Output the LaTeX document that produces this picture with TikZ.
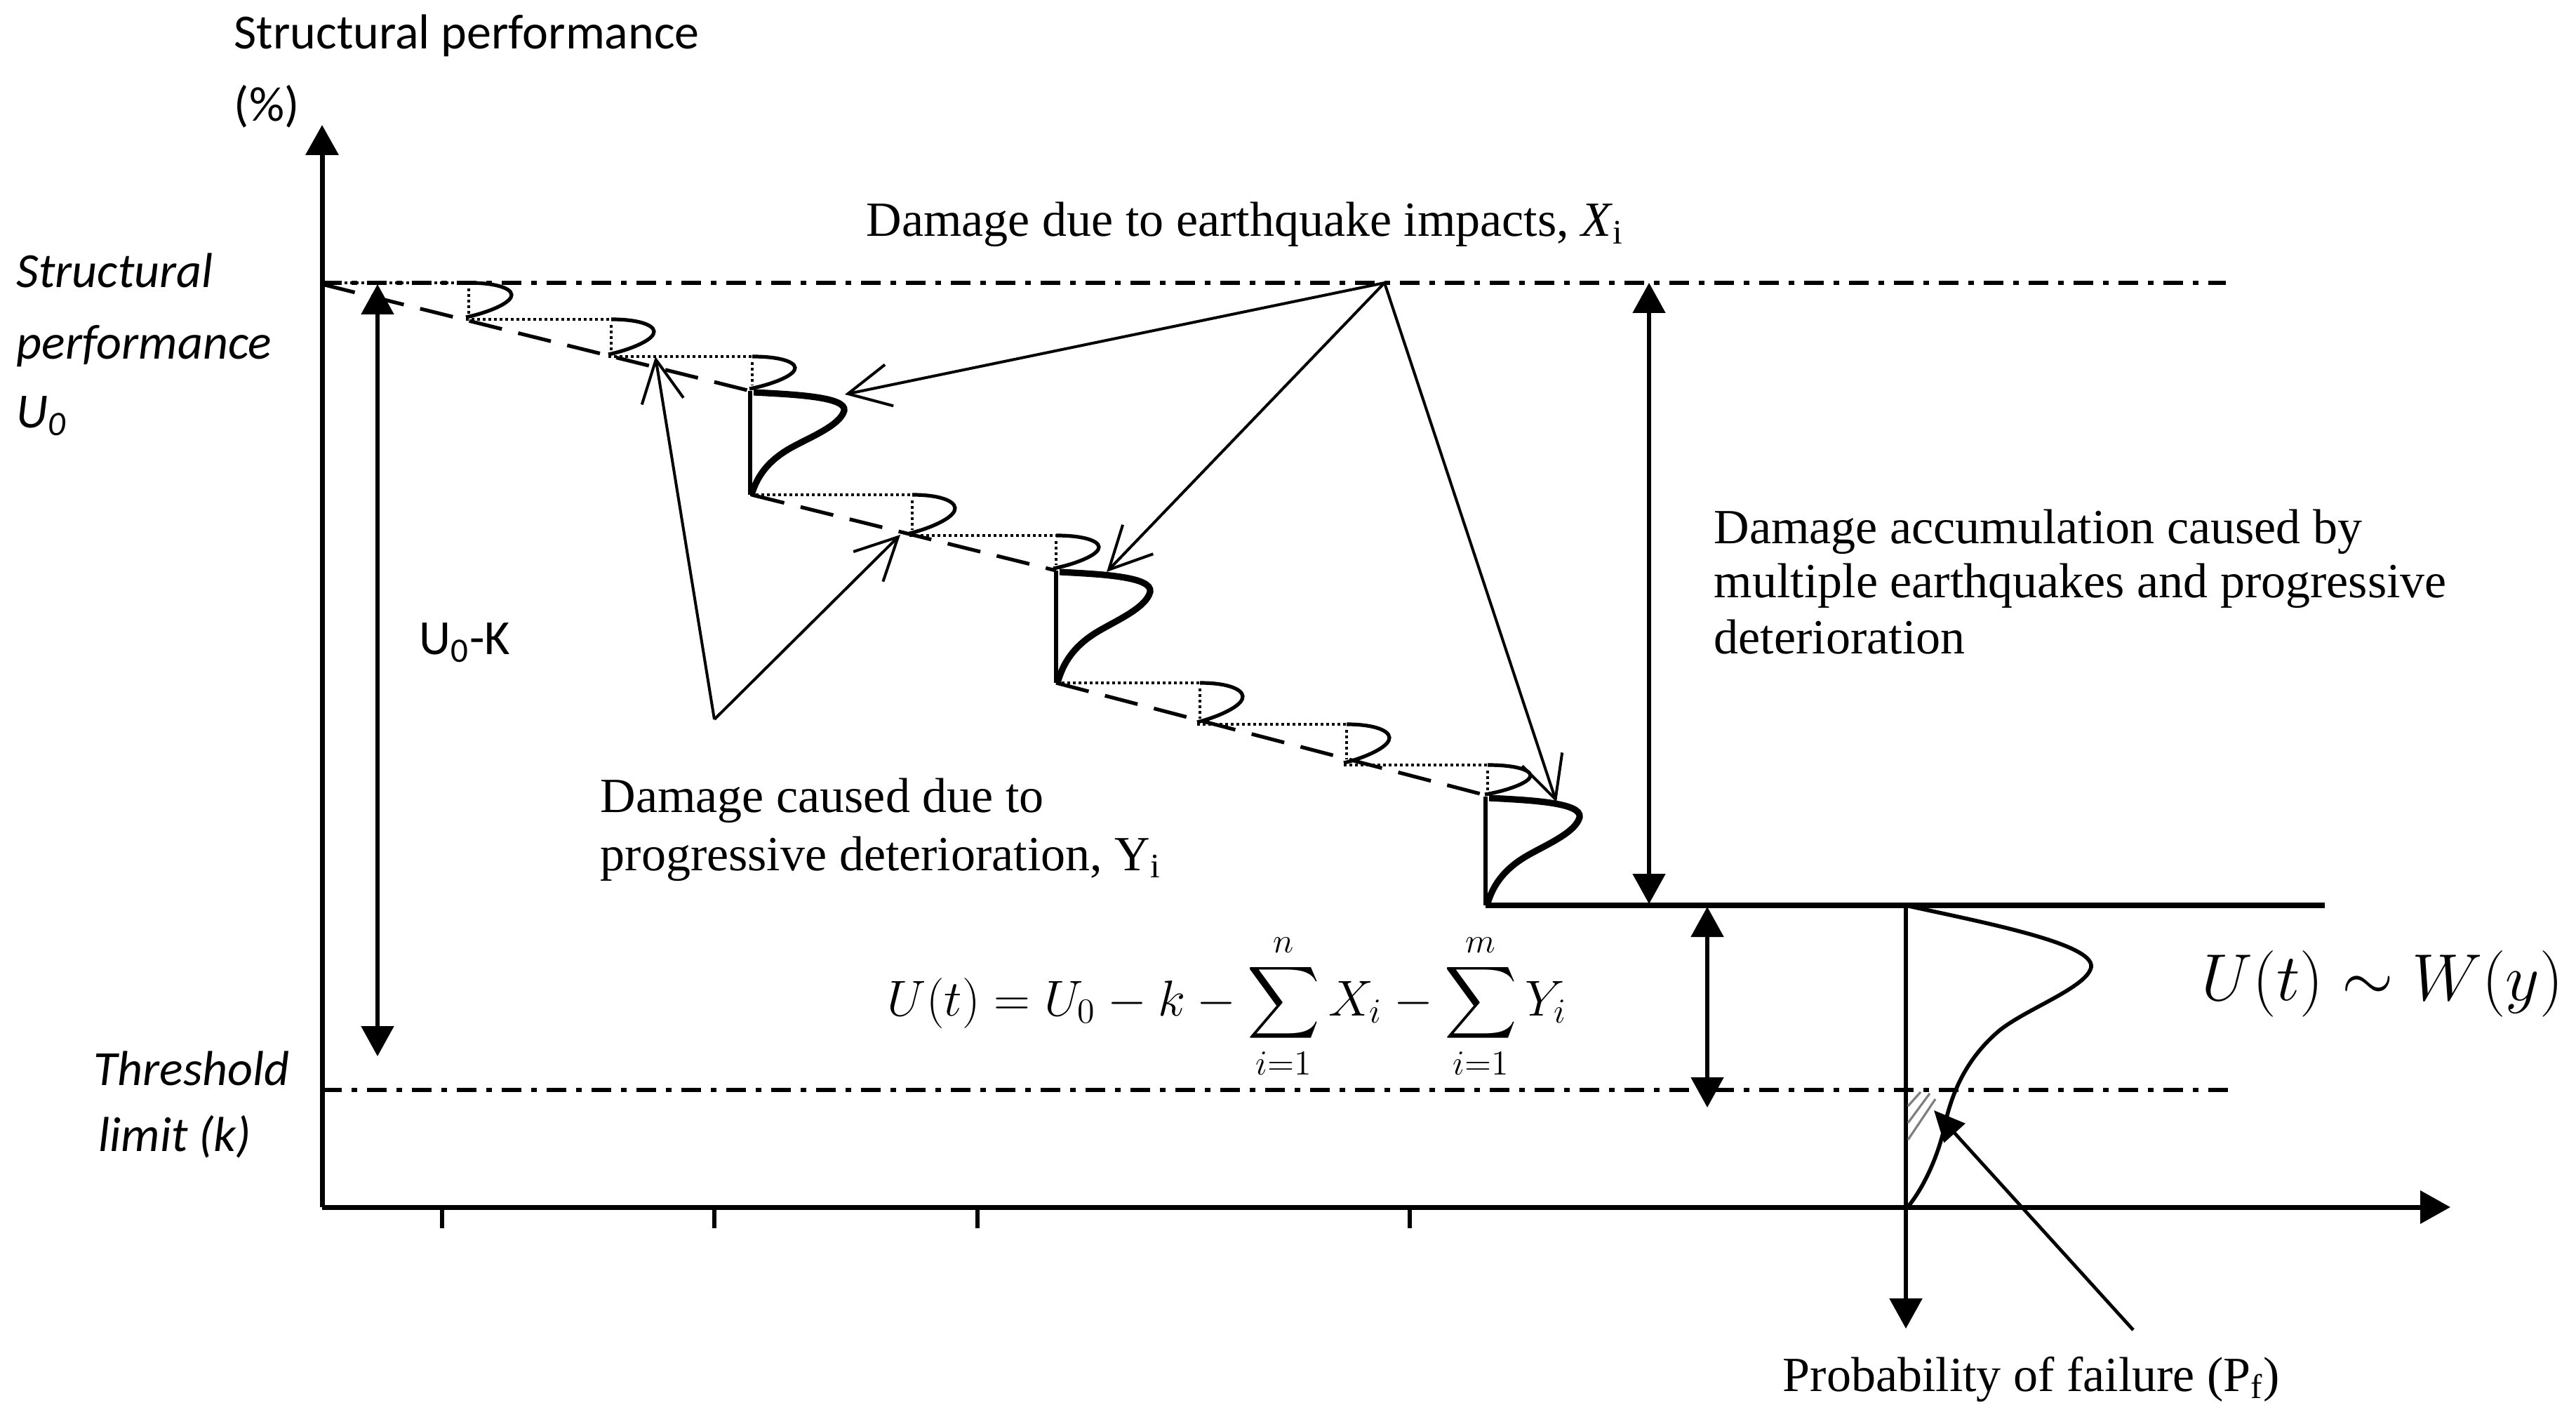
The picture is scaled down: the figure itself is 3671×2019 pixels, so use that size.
\documentclass[tikz,border=0pt]{standalone}
\usepackage{exscale}
\usepackage{graphicx}
\usepackage{fontspec}
\setmainfont{Liberation Serif}
\newfontfamily\calib{Carlito}
\usetikzlibrary{arrows.meta}
\newcommand\drawsmallD[3]{%
  \draw[smallDst] (#1,#2) .. controls ({#1+45},#2) and ({#1+66},{#2+0.2*(#3-#2)}) .. ({#1+60},{#2+0.4*(#3-#2)})
    .. controls ({#1+54},{#2+0.62*(#3-#2)}) and ({#1+20},{#2+0.85*(#3-#2)}) .. ({#1-4},{#3-3});
  \draw[dotl] (#1,{#2+8}) -- (#1,{#3-8});
}
\newcommand\drawbigD[3]{%
  \draw[vline] (#1,#2) -- (#1,#3);
  \draw[bigDst] ({#1+5},{#2+2}) .. controls ({#1+60},{#2+5}) and ({#1+138},{#2+8}) .. ({#1+134},{#2+0.19*(#3-#2)})
    .. controls ({#1+128},{#2+0.34*(#3-#2)}) and ({#1+80},{#2+0.46*(#3-#2)}) .. ({#1+55},{#2+0.56*(#3-#2)})
    .. controls ({#1+25},{#2+0.68*(#3-#2)}) and ({#1+10},{#2+0.82*(#3-#2)}) .. ({#1+2},#3);
}
\tikzset{
  axisline/.style={line width=1.75pt, -{Triangle[width=11.5pt,length=10.75pt]}},
  tickline/.style={line width=1.6pt},
  dashdot/.style={line width=1.6pt, dash pattern=on 7pt off 3.5pt on 2pt off 3.5pt},
  dotl/.style={line width=1.2pt, dash pattern=on 1.1pt off 0.9pt},
  dashl/.style={line width=1.3pt, dash pattern=on 12pt off 6pt},
  thinarr/.style={line width=1pt, -{Straight Barb[length=15pt,width=15pt]}},
  dblarr/.style={line width=1.3pt, {Triangle[width=11.5pt,length=10.75pt]}-{Triangle[width=11.5pt,length=10.75pt]}},
  smallDst/.style={line width=1.3pt},
  bigDst/.style={line width=2.3pt},
  vline/.style={line width=1.3pt},
  serif/.style={font=\fontsize{17.5pt}{20pt}\selectfont, inner sep=0pt, anchor=base west},
  cal/.style={font=\calib\fontsize{17.5pt}{21pt}\selectfont, inner sep=0pt, anchor=base west},
  calit/.style={font=\calib\itshape\fontsize{17.5pt}{21pt}\selectfont, inner sep=0pt, anchor=base west},
}
\begin{document}
\begin{tikzpicture}[x=0.25pt,y=-0.25pt]
\useasboundingbox (0,0) rectangle (3671,2019);

% axes
\coordinate (O) at (459,1720);
\coordinate (Ytop) at (459,178);
\coordinate (Xend) at (3492,1720);
\draw[axisline] (O) -- (Ytop);
\draw[axisline] (O) -- (Xend);
\foreach \tx in {630,1018,1393,2009} \draw[tickline] (\tx,1720) -- (\tx,1750);

% reference lines
\draw[dashdot] (459,403) -- (3172,403);
\draw[dashdot] (459,1553) -- (3175,1553);

% segment 1
\draw[dashl] (459,405) -- (1069,557);
\draw[dotl] (459,403) -- (668,403);
\draw[dotl] (664,455) -- (871,455);
\draw[dotl] (867,508) -- (1072,508);
\drawsmallD{668}{403}{455}
\drawsmallD{871}{455}{508}
\drawsmallD{1072}{508}{557}
\drawbigD{1069}{557}{705}

% segment 2
\draw[dashl] (1071,705) -- (1505,813);
\draw[dotl] (1069,705) -- (1300,705);
\draw[dotl] (1296,763) -- (1505,763);
\drawsmallD{1300}{705}{763}
\drawsmallD{1505}{763}{813}
\drawbigD{1505}{813}{973}

% segment 3
\draw[dashl] (1505,973) -- (2117,1133);
\draw[dotl] (1505,973) -- (1710,973);
\draw[dotl] (1706,1032) -- (1919,1032);
\draw[dotl] (1915,1090) -- (2120,1090);
\drawsmallD{1710}{973}{1032}
\drawsmallD{1919}{1032}{1090}
\drawsmallD{2120}{1090}{1135}
\drawbigD{2117}{1135}{1290}

% final level
\draw[line width=1.8pt] (2117,1290) -- (3313,1290);

% final distribution
\coordinate (Dtop) at (2716,1290);
\coordinate (Dbot) at (2716,1893);
\draw[line width=1.4pt, -{Triangle[width=11.5pt,length=10.75pt]}] (Dtop) -- (Dbot);
\draw[line width=1.4pt] (2720,1291) .. controls (2830,1315) and (2985,1345) .. (2980,1378)
  .. controls (2974,1408) and (2880,1440) .. (2845,1472)
  .. controls (2800,1512) and (2780,1560) .. (2770,1610)
  .. controls (2758,1660) and (2735,1700) .. (2720,1718);
\draw[gray, line width=0.8pt] (2719,1576) -- (2737,1556);
\draw[gray, line width=0.8pt] (2719,1600) -- (2750,1558);
\draw[gray, line width=0.8pt] (2719,1624) -- (2758,1566);

% arrows from earthquake label vertex
\coordinate (Xv) at (1973,403);
\coordinate (X1) at (1204,562);
\coordinate (X2) at (1577,815);
\coordinate (X3) at (2218,1143);
\draw[thinarr] (Xv) -- (X1);
\draw[thinarr] (Xv) -- (X2);
\draw[thinarr] (Xv) -- (X3);

% arrows from deterioration vertex
\coordinate (Yv) at (1018,1025);
\coordinate (Y1) at (934,508);
\coordinate (Y2) at (1283,762);
\draw[thinarr] (Yv) -- (Y1);
\draw[thinarr] (Yv) -- (Y2);

% double arrows
\coordinate (LA1) at (538,405);
\coordinate (LA2) at (538,1505);
\draw[dblarr] (LA1) -- (LA2);
\coordinate (RA1) at (2350,403);
\coordinate (RA2) at (2350,1288);
\draw[dblarr] (RA1) -- (RA2);
\coordinate (RB1) at (2433,1292);
\coordinate (RB2) at (2433,1578);
\draw[dblarr] (RB1) -- (RB2);

% probability of failure arrow
\coordinate (Pfs) at (3040,1895);
\coordinate (Pft) at (2756,1582);
\draw[line width=1.2pt, -{Triangle[width=10pt,length=11pt]}] (Pfs) -- (Pft);

% texts
\node[cal] (yl1) at (333,70) {Structural performance};
\node[cal] (yl2) at (333,173) {(\%)};
\node[calit] (sp1) at (23,410) {Structural};
\node[calit] (sp2) at (23,512) {performance};
\node[calit] (sp3) at (23,610) {U\textsubscript{0}};
\node[calit] (th1) at (133,1546) {Threshold};
\node[calit] (th2) at (140,1640) {limit (k)};
\node[cal] (uk) at (597,933) {U\textsubscript{0}-K};

\node[serif] (lx) at (1234,337) {Damage due to earthquake impacts, \textit{X}\textsubscript{i}};
\node[serif] (la1) at (2442,775) {Damage accumulation caused by};
\node[serif] (la2) at (2442,852) {multiple earthquakes and progressive};
\node[serif] (la3) at (2442,932) {deterioration};
\node[serif] (ly1) at (855,1157) {Damage caused due to};
\node[serif] (ly2) at (855,1240) {progressive deterioration, Y\textsubscript{i}};
\node[serif] (pf) at (2540,1982) {Probability of failure (P\textsubscript{f})};

\node[inner sep=0pt, anchor=base west] (eq) at (1264,1447)
  {\scalebox{1.04}{\fontsize{17.28pt}{21pt}\selectfont $\displaystyle U(t)=U_0-k-\sum_{i=1}^{n}X_i-\sum_{i=1}^{m}Y_i$}};
\node[inner sep=0pt, anchor=base west] (uw) at (3137,1425)
  {\scalebox{1.14}{\fontsize{20.74pt}{25pt}\selectfont $U(t)\sim W(y)$}};
\end{tikzpicture}
\end{document}
